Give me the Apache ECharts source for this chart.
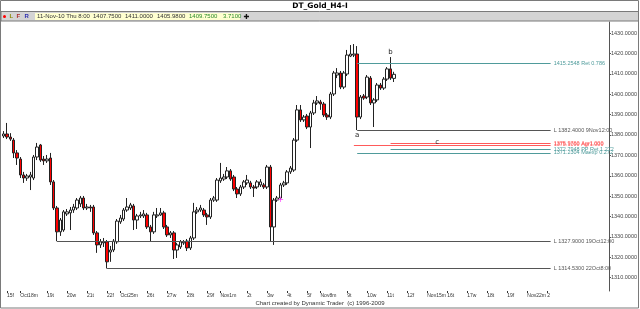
<!DOCTYPE html>
<html>
<head>
<meta charset="utf-8">
<title>DT_Gold_H4-I</title>
<script src="https://cdn.jsdelivr.net/npm/echarts@6/dist/echarts.min.js"></script>
<style>
  html, body { margin: 0; padding: 0; background: #fff; }
  #chart { width: 640px; height: 309px; }
</style>
</head>
<body>
<div id="chart"></div>
<script>
// Day labels on the time axis and how many 4h bars each day holds
const dayLabels = ['', '15f', 'Oct18m', '19t', '20w', '21t', '22f', 'Oct25m', '26t', '27w', '28t', '29f',
    'Nov1m', '2t', '3w', '4t', '5f', 'Nov8m', '9t', '10w', '11t', '12f', 'Nov15m', '16t', '17w',
    '18t', '19f', 'Nov22m', '2', '', '', ''];
const dayBars = [1, 4, 8, 6, 6, 6, 4, 8, 6, 6, 6, 4, 8, 6, 6, 6, 4, 8, 6, 6, 6, 6, 6, 6, 6, 6, 6, 6, 6, 6, 6, 1];

// OHLC of the H4 gold bars
const opens = [1379.5, 1380.5, 1379.0, 1377.5, 1371.2, 1368.2, 1360.4, 1358.9, 1359.4, 1358.9,
    1369.2, 1375.1, 1368.2, 1367.3, 1368.7, 1357.0, 1344.2, 1332.5, 1333.4, 1341.3,
    1341.8, 1343.2, 1344.2, 1346.2, 1349.1, 1344.2, 1344.7, 1344.7, 1332.0, 1326.1,
    1327.1, 1327.6, 1322.6, 1323.6, 1327.6, 1337.4, 1338.8, 1343.2, 1344.2, 1345.2,
    1338.3, 1340.3, 1340.3, 1340.8, 1334.9, 1332.5, 1340.3, 1340.8, 1341.8, 1334.9,
    1331.0, 1332.0, 1323.6, 1325.1, 1327.1, 1328.0, 1324.6, 1329.5, 1342.3, 1343.2,
    1343.2, 1340.8, 1339.8, 1348.1, 1348.1, 1357.5, 1358.4, 1359.4, 1362.4, 1359.4,
    1353.5, 1351.1, 1354.5, 1356.5, 1356.5, 1354.5, 1354.5, 1355.5, 1355.5, 1354.5,
    1364.3, 1334.9, 1348.1, 1349.1, 1355.5, 1356.5, 1361.9, 1362.8, 1377.5, 1392.3,
    1387.4, 1389.3, 1383.9, 1390.8, 1395.7, 1396.2, 1395.2, 1389.8, 1388.8, 1400.1,
    1409.4, 1410.4, 1403.5, 1409.9, 1418.7, 1419.2, 1419.7, 1388.8, 1399.1, 1398.6,
    1407.9, 1395.7, 1397.2, 1404.5, 1403.0, 1407.4, 1412.4, 1407.75];
const closes = [1380.5, 1379.0, 1378.0, 1371.2, 1368.7, 1360.4, 1358.9, 1359.9, 1360.4, 1369.2,
    1374.1, 1367.7, 1367.3, 1368.2, 1357.0, 1344.2, 1332.5, 1338.3, 1342.3, 1342.3,
    1343.2, 1344.7, 1348.1, 1349.1, 1344.2, 1344.7, 1344.2, 1332.0, 1326.1, 1327.6,
    1327.6, 1317.8, 1323.6, 1328.0, 1337.8, 1339.3, 1343.2, 1344.7, 1345.7, 1338.3,
    1340.3, 1340.8, 1341.3, 1334.9, 1332.5, 1340.8, 1340.8, 1341.8, 1334.9, 1331.0,
    1332.0, 1323.6, 1326.1, 1327.6, 1327.6, 1324.6, 1329.5, 1342.3, 1343.2, 1344.2,
    1340.8, 1339.8, 1348.1, 1349.1, 1357.9, 1358.9, 1359.4, 1362.4, 1358.4, 1353.5,
    1351.1, 1354.5, 1357.0, 1357.9, 1354.5, 1354.0, 1357.0, 1357.0, 1354.5, 1364.3,
    1334.9, 1348.1, 1349.1, 1355.5, 1356.5, 1361.9, 1363.8, 1377.5, 1392.3, 1387.4,
    1388.8, 1383.9, 1390.8, 1395.7, 1396.7, 1395.2, 1389.8, 1388.8, 1400.1, 1410.4,
    1410.4, 1403.5, 1410.4, 1419.2, 1419.7, 1419.7, 1388.8, 1398.6, 1398.1, 1408.4,
    1395.7, 1397.2, 1404.5, 1403.0, 1407.4, 1412.4, 1407.9, 1409.75];
const lows = [1378.5, 1378.0, 1377.1, 1368.7, 1365.3, 1358.9, 1356.5, 1357.5, 1353.0, 1357.9,
    1367.7, 1366.8, 1365.3, 1366.3, 1355.5, 1343.2, 1327.9, 1330.5, 1332.5, 1340.3,
    1333.4, 1341.8, 1343.2, 1344.7, 1343.2, 1343.2, 1342.3, 1331.0, 1322.2, 1324.6,
    1325.1, 1314.53, 1317.8, 1322.6, 1326.6, 1336.4, 1337.8, 1342.3, 1343.2, 1333.4,
    1333.9, 1339.3, 1339.3, 1333.9, 1327.6, 1331.5, 1339.3, 1340.3, 1333.9, 1330.0,
    1329.5, 1319.2, 1319.7, 1324.1, 1326.1, 1323.1, 1323.6, 1328.5, 1341.3, 1342.3,
    1339.8, 1335.9, 1338.8, 1347.2, 1347.2, 1356.5, 1357.5, 1358.4, 1357.5, 1352.5,
    1349.1, 1350.1, 1353.5, 1355.5, 1353.5, 1349.6, 1353.5, 1354.5, 1353.5, 1353.5,
    1327.6, 1326.1, 1347.2, 1348.1, 1354.5, 1355.5, 1360.9, 1361.9, 1376.6, 1386.4,
    1386.4, 1382.9, 1373.6, 1389.8, 1394.7, 1392.3, 1388.8, 1387.4, 1387.8, 1399.1,
    1407.9, 1402.5, 1402.5, 1408.9, 1418.2, 1418.2, 1382.4, 1387.8, 1397.2, 1397.6,
    1394.7, 1383.9, 1396.2, 1402.1, 1402.1, 1406.5, 1407.0, 1405.98];
const highs = [1381.9, 1385.9, 1380.9, 1378.5, 1372.6, 1369.2, 1361.9, 1360.9, 1361.9, 1370.2,
    1376.1, 1375.6, 1369.7, 1370.2, 1371.2, 1357.9, 1345.2, 1339.3, 1343.2, 1343.7,
    1344.7, 1346.2, 1349.1, 1350.1, 1350.1, 1346.2, 1345.7, 1345.7, 1332.9, 1329.0,
    1329.5, 1328.5, 1325.6, 1329.0, 1338.8, 1340.8, 1344.2, 1349.1, 1346.7, 1346.2,
    1341.3, 1342.3, 1343.2, 1341.8, 1335.9, 1342.3, 1344.2, 1344.2, 1342.8, 1335.9,
    1332.9, 1332.9, 1327.1, 1328.5, 1328.5, 1329.0, 1330.5, 1346.7, 1344.7, 1345.7,
    1344.2, 1341.8, 1349.1, 1350.1, 1358.9, 1366.3, 1360.9, 1364.3, 1363.3, 1360.4,
    1354.5, 1355.5, 1357.9, 1360.4, 1357.5, 1355.5, 1357.9, 1358.4, 1356.5, 1365.3,
    1365.3, 1349.1, 1350.1, 1356.5, 1357.5, 1362.8, 1364.8, 1378.5, 1394.7, 1394.7,
    1389.8, 1390.3, 1391.8, 1397.2, 1399.1, 1397.2, 1396.2, 1390.8, 1401.1, 1411.4,
    1412.8, 1411.4, 1411.4, 1421.7, 1424.1, 1424.6, 1423.6, 1399.6, 1400.1, 1409.4,
    1408.9, 1398.1, 1405.5, 1405.5, 1408.4, 1413.3, 1418.2, 1411.0];

// Price axis ticks
const yTicks = [1310, 1320, 1330, 1340, 1350, 1360, 1370, 1380, 1390, 1400, 1410, 1420, 1430];

// Horizontal study levels: price, first bar, text
const levelPrices = [1415.2548, 1382.4, 1376.0, 1375.1, 1373.1, 1371.2304, 1327.9, 1314.53];
const levelStart = [106, 106, 116, 105, 116, 106, 16, 31];
const levelText = ['1415.2548 Ret 0.786', 'L 1382.4000 9Nov12:00', '1375.9760 Agr1.000', '1375.1000 Agr1.000',
    '1372.7948 PP Ret 1.272', '1371.2304 Maexp 0.272', 'L 1327.9000 19Oct12:00', 'L 1314.5300 22Oct8:00'];
const levelColors = ['#4f9b9b', '#555555', '#ff5a5a', '#ff5a5a', '#4f9b9b', '#4f9b9b', '#555555', '#555555'];
const levelEnd = 164;

// Wave markers a, b, c
const waveNames = ['a', 'b', 'c'];
const waveBars = [106, 116, 130];
const wavePrices = [1382.4, 1418.2, 1376.7];

// Last bar readout
const lastBar = { time: '11-Nov-10 Thu 8:00', open: 1407.75, high: 1411.0, low: 1405.98, close: 1409.75, range: 3.71 };

// Build categories and their tick labels
const categories = [];
const tickLabels = [];
dayBars.forEach((n, d) => {
    for (let k = 0; k < n; k++) {
        categories.push('bar' + categories.length);
        tickLabels.push(k === 0 ? dayLabels[d] : '');
    }
});

const candles = opens.map((o, i) => [o, closes[i], lows[i], highs[i]]);

const smallFont = "'Liberation Sans Narrow', 'Liberation Sans', sans-serif";

const levelLines = levelPrices.map((p, i) => [
    { coord: [levelStart[i], p], lineStyle: { color: levelColors[i], width: 1, type: 'solid' },
      label: { show: true, position: 'end', formatter: levelText[i], color: levelColors[i],
               fontSize: 5.5, fontFamily: smallFont, distance: 3 } },
    { coord: [levelEnd, p] }
]);

// yellow last price tag on the price scale
levelLines.push({
    yAxis: lastBar.close,
    lineStyle: { opacity: 0 },
    label: { show: true, position: 'end', formatter: lastBar.close.toFixed(4), color: '#000',
             backgroundColor: '#ffff00', padding: [1, 1, 0, 1], fontSize: 5.5, fontFamily: smallFont, distance: 2 }
});

const wavePoints = waveNames.map((n, i) => ({
    coord: [waveBars[i], wavePrices[i]],
    symbolSize: 0,
    label: { show: true, formatter: n, color: '#222', fontSize: 7, fontFamily: 'DejaVu Sans',
             offset: [0, i === 0 ? 5 : (i === 1 ? -5 : 0)] }
}));
wavePoints.push({
    coord: [83, 1348.1], symbolSize: 0,
    label: { show: true, formatter: '+', color: '#ff40ff', fontSize: 8, fontFamily: 'DejaVu Sans' }
});

const chart = echarts.init(document.getElementById('chart'));

const option = {
    animation: false,
    backgroundColor: '#ffffff',
    grid: { left: 2, right: 24, top: 22, bottom: 18 },
    xAxis: {
        type: 'category',
        data: categories,
        boundaryGap: true,
        axisLine: { show: false },
        axisTick: {
            show: true, alignWithLabel: true, length: 2,
            interval: (i) => tickLabels[i] !== '',
            lineStyle: { color: '#333' }
        },
        axisLabel: {
            interval: (i) => tickLabels[i] !== '',
            formatter: (v, i) => tickLabels[i],
            hideOverlap: false,
            showMinLabel: true,
            showMaxLabel: true,
            align: 'left', margin: 2, fontSize: 5, color: '#333', fontFamily: smallFont
        },
        splitLine: { show: false }
    },
    yAxis: {
        type: 'value',
        position: 'right',
        min: 1303.5,
        max: 1435.4,
        axisLine: { show: true, lineStyle: { color: '#555' } },
        axisTick: { show: true, length: 2, customValues: yTicks, lineStyle: { color: '#555' } },
        axisLabel: {
            customValues: yTicks, formatter: (v) => v.toFixed(4),
            margin: 2, fontSize: 5.5, color: '#444', fontFamily: smallFont
        },
        splitLine: { show: false }
    },
    series: [{
        type: 'candlestick',
        data: candles,
        barWidth: 3,
        itemStyle: {
            color: '#ffffff',
            color0: '#ff0000',
            borderColor: '#222222',
            borderColor0: '#222222',
            borderWidth: 1
        },
        markLine: {
            silent: true,
            symbol: ['none', 'none'],
            animation: false,
            data: levelLines
        },
        markPoint: {
            silent: true,
            symbol: 'circle',
            animation: false,
            data: wavePoints
        }
    }],
    graphic: [
        { type: 'rect', shape: { x: 0.5, y: 0.5, width: 638, height: 307.5 },
          style: { fill: 'none', stroke: '#7a7a7a', lineWidth: 1 }, z: 10 },
        { type: 'rect', shape: { x: 1, y: 11.5, width: 637.5, height: 9.5 },
          style: { fill: '#d4d4d4', stroke: '#7a7a7a', lineWidth: 1 }, z: 9 },
        { type: 'text', x: 320, y: 6, z: 11,
          style: { text: 'DT_Gold_H4-I', fill: '#000', font: 'bold 7.5px "DejaVu Sans"', align: 'center', verticalAlign: 'middle' } },
        { type: 'circle', shape: { cx: 4.5, cy: 16.5, r: 1.5 }, style: { fill: '#ff0000' }, z: 11 },
        { type: 'text', x: 9.5, y: 16.8, z: 11,
          style: { text: 'L', fill: '#8a8a00', font: 'bold 6px ' + smallFont, verticalAlign: 'middle' } },
        { type: 'text', x: 16.5, y: 16.8, z: 11,
          style: { text: 'F', fill: '#b03030', font: 'bold 6px ' + smallFont, verticalAlign: 'middle' } },
        { type: 'text', x: 24.5, y: 16.8, z: 11,
          style: { text: 'R', fill: '#3030b0', font: 'bold 6px ' + smallFont, verticalAlign: 'middle' } },
        { type: 'rect', shape: { x: 35, y: 13, width: 205, height: 7 }, style: { fill: '#ffffd0' }, z: 10 },
        { type: 'text', x: 37, y: 16.8, z: 11,
          style: { text: lastBar.time, fill: '#333', font: '6px ' + smallFont, verticalAlign: 'middle' } },
        { type: 'text', x: 93, y: 16.8, z: 11,
          style: { text: lastBar.open.toFixed(4), fill: '#333', font: '6px ' + smallFont, verticalAlign: 'middle' } },
        { type: 'text', x: 125, y: 16.8, z: 11,
          style: { text: lastBar.high.toFixed(4), fill: '#333', font: '6px ' + smallFont, verticalAlign: 'middle' } },
        { type: 'text', x: 157, y: 16.8, z: 11,
          style: { text: lastBar.low.toFixed(4), fill: '#333', font: '6px ' + smallFont, verticalAlign: 'middle' } },
        { type: 'text', x: 189, y: 16.8, z: 11,
          style: { text: lastBar.close.toFixed(4), fill: '#2a8a2a', font: '6px ' + smallFont, verticalAlign: 'middle' } },
        { type: 'text', x: 223, y: 16.8, z: 11,
          style: { text: lastBar.range.toFixed(4), fill: '#2a8a2a', font: '6px ' + smallFont, verticalAlign: 'middle' } },
        { type: 'text', x: 243.5, y: 16.8, z: 11,
          style: { text: '\u271A', fill: '#111', font: '7px "DejaVu Sans"', verticalAlign: 'middle' } },
        { type: 'text', x: 320, y: 303.5, z: 11,
          style: { text: 'Chart created by Dynamic Trader  (c) 1996-2009', fill: '#333',
                   font: '6px ' + smallFont, align: 'center', verticalAlign: 'middle' } }
    ]
};

chart.setOption(option);

window.addEventListener('resize', function() {
    chart.resize();
});
</script>
</body>
</html>
